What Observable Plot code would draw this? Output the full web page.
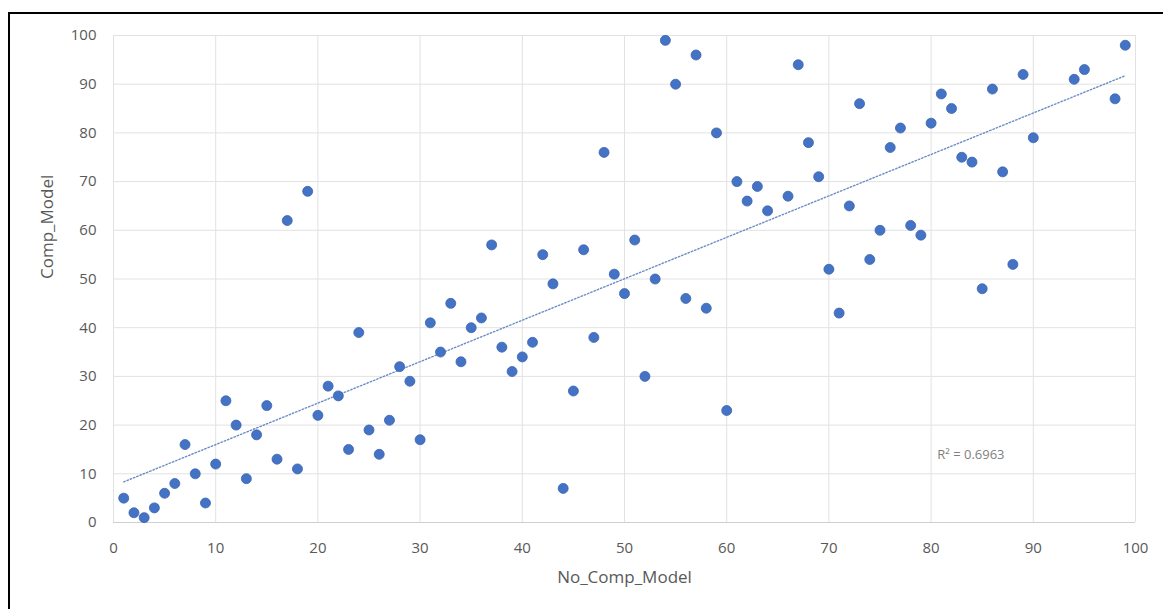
<!DOCTYPE html>
<html>
<head>
<meta charset="utf-8">
<script src="https://cdn.jsdelivr.net/npm/d3@7"></script>
<script src="https://cdn.jsdelivr.net/npm/@observablehq/plot@0.6"></script>
<style>
  html, body { margin: 0; padding: 0; background: #fff; overflow: hidden; }
  #frame { position: absolute; left: 8px; top: 12px; width: 1300px; height: 700px;
           border-left: 2px solid #000; border-top: 2px solid #000; box-sizing: border-box; }
  #chart { position: absolute; left: 0; top: 0; }
</style>
</head>
<body>
<div id="frame"></div>
<div id="chart"></div>
<script>
// No_Comp_Model values (x) and Comp_Model values (y)
const noCompModel = [1,2,3,4,5,6,7,8,9,10,11,12,13,14,15,16,17,18,19,20,
  21,22,23,24,25,26,27,28,29,30,31,32,33,34,35,36,37,38,39,40,
  41,42,43,44,45,46,47,48,49,50,51,52,53,54,55,56,57,58,59,60,
  61,62,63,64,66,67,68,69,70,71,72,73,74,75,76,77,78,79,80,
  81,82,83,84,85,86,87,88,89,90,94,95,98,99];
const compModel = [5,2,1,3,6,8,16,10,4,12,25,20,9,18,24,13,62,11,68,22,
  28,26,15,39,19,14,21,32,29,17,41,35,45,33,40,42,57,36,31,34,
  37,55,49,7,27,56,38,76,51,47,58,30,50,99,90,46,96,44,80,23,
  70,66,69,64,67,94,78,71,52,43,65,86,54,60,77,81,61,59,82,
  88,85,75,74,48,89,72,53,92,79,91,93,87,98];
const xTicks = [0,10,20,30,40,50,60,70,80,90,100];
const yTicks = [0,10,20,30,40,50,60,70,80,90,100];
const rSquaredText = "R\u00b2 = 0.6963";

const data = noCompModel.map((x, i) => ({x, y: compModel[i]}));

const chart = Plot.plot({
  width: 1163,
  height: 609,
  marginLeft: 113,
  marginRight: 28,
  marginTop: 35,
  marginBottom: 87,
  style: {fontFamily: "'Open Sans', sans-serif", fontSize: "15px", color: "#595959", background: "transparent"},
  x: {domain: [0, 100], ticks: xTicks, tickSize: 0, tickPadding: 20, label: null},
  y: {domain: [0, 100], ticks: yTicks, tickSize: 0, tickPadding: 17, label: null},
  marks: [
    Plot.gridX(xTicks, {stroke: "#e2e2e2", strokeOpacity: 1}),
    Plot.gridY(yTicks, {stroke: "#e2e2e2", strokeOpacity: 1}),
    Plot.ruleY([0], {stroke: "#cfcfcf"}),
    Plot.linearRegressionY(data, {x: "x", y: "y", ci: 0, stroke: "#6d8cc6", strokeWidth: 1.4, strokeDasharray: "1.5,2"}),
    Plot.dot(data, {x: "x", y: "y", r: 5, fill: "#4472c4", stroke: "#3c66b0", strokeWidth: 0.8}),
    Plot.text([rSquaredText], {x: 80.6, y: 13.8, text: d => d, textAnchor: "start", fontSize: 13, fill: "#7f7f7f"}),
    Plot.axisX(xTicks, {tickSize: 0, tickPadding: 20, label: null, fill: "#595959"}),
    Plot.axisY(yTicks, {tickSize: 0, tickPadding: 17, label: null, fill: "#595959"}),
    Plot.text(["No_Comp_Model"], {frameAnchor: "bottom", dy: 60, text: d => d, fontSize: 17, fill: "#595959"}),
    Plot.text(["Comp_Model"], {frameAnchor: "left", dx: -66, rotate: -90, text: d => d, fontSize: 17, fill: "#595959"})
  ]
});
document.getElementById("chart").appendChild(chart);
</script>
</body>
</html>
